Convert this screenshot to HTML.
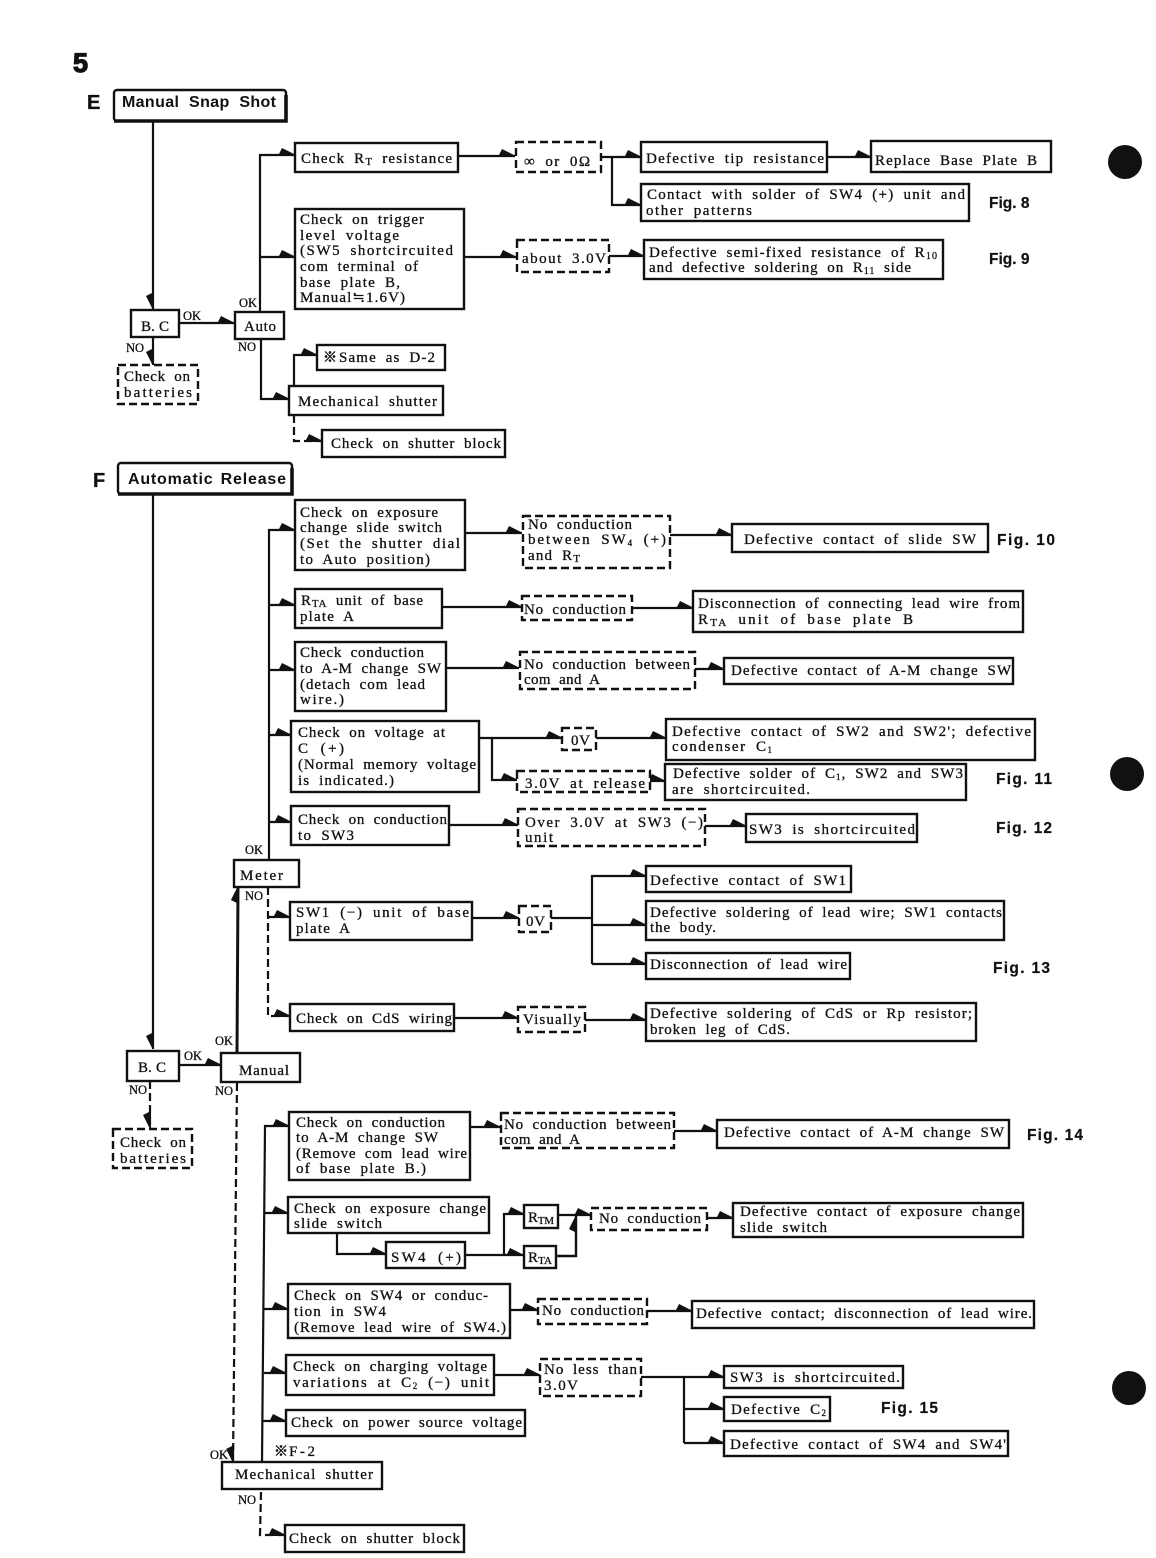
<!DOCTYPE html>
<html><head><meta charset="utf-8"><title>Troubleshooting flowchart</title>
<style>
html,body{margin:0;padding:0;background:#fff}
svg{display:block}
text{font-family:"Liberation Serif","Noto Sans CJK JP",serif;font-size:15px;fill:#111;stroke:#111;stroke-width:.3;word-spacing:4px}
.b{fill:#fff;stroke:#111;stroke-width:2.4}
.d{fill:#fff;stroke:#111;stroke-width:2.4;stroke-dasharray:8 4}
.l{fill:none;stroke:#111;stroke-width:2.2}
.a{fill:none;stroke:#111;stroke-width:2.2;marker-end:url(#ar)}
.am{fill:none;stroke:#111;stroke-width:2.2;marker-end:url(#arm)}
.ad{fill:none;stroke:#111;stroke-width:2.2;stroke-dasharray:8 4;marker-end:url(#ar)}
.adm{fill:none;stroke:#111;stroke-width:2.2;stroke-dasharray:8 4;marker-end:url(#arm)}
.h{font-family:"Liberation Sans",sans-serif;font-weight:bold;font-size:16px;stroke-width:0;word-spacing:5px}
.f{font-family:"Liberation Sans",sans-serif;font-weight:bold;font-size:15.5px;stroke-width:.2;word-spacing:0}
.s{font-family:"Liberation Serif",serif;font-size:12.5px;word-spacing:0}
.m{font-family:"Noto Sans CJK JP",sans-serif;font-weight:bold;font-size:14px;stroke-width:.6}
</style></head><body>
<svg xmlns="http://www.w3.org/2000/svg" width="1156" height="1558" viewBox="0 0 1156 1558">
<defs>
<marker id="ar" markerUnits="userSpaceOnUse" markerWidth="18" markerHeight="12" refX="17" refY="8" orient="auto"><path d="M0,9 L4,1 L17,7.5 L17,9 Z" fill="#111"/></marker>
<marker id="arm" markerUnits="userSpaceOnUse" markerWidth="18" markerHeight="12" refX="17" refY="4" orient="auto"><path d="M0,3 L4,11 L17,4.5 L17,3 Z" fill="#111"/></marker>
</defs>
<rect width="1156" height="1558" fill="#fff"/>
<circle cx="1125" cy="162" r="17" fill="#111"/><circle cx="1127" cy="774" r="17" fill="#111"/><circle cx="1129" cy="1388" r="17" fill="#111"/>

<!-- connectors E -->
<path class="am" d="M153,121V309"/><path class="a" d="M179,323H234"/>
<path class="a" d="M260,312V155H295"/><path class="a" d="M260,257H295"/>
<path class="a" d="M458,156H515"/><path class="a" d="M601,157H641"/><path class="a" d="M612,157V205H641"/>
<path class="a" d="M827,157H871"/>
<path class="a" d="M464,257H516"/><path class="a" d="M609,256H644"/>
<path class="a" d="M261,339V399H289"/><path class="a" d="M294,386V355H317"/>
<path class="ad" d="M294,415V441H322"/><path class="am" d="M153,337V365"/>

<!-- connectors F -->
<path class="am" d="M153,494V1049"/><path class="a" d="M179,1065H221"/>
<path class="adm" d="M150,1081V1128"/>
<path class="a" style="stroke-width:3" d="M237,1053L238,887"/>
<path class="a" d="M269,859V530H295"/><path class="a" d="M269,605H295"/><path class="a" d="M269,670H295"/><path class="a" d="M269,735H291"/><path class="a" d="M269,822H291"/>
<path class="a" d="M465,533H522"/><path class="a" d="M670,535H732"/>
<path class="a" d="M442,607H522"/><path class="a" d="M632,608H693"/>
<path class="a" d="M446,668H519"/><path class="a" d="M695,669H724"/>
<path class="a" d="M479,738H562"/><path class="a" d="M596,738H666"/>
<path class="a" d="M492,738V780H517"/><path class="a" d="M650,781H665"/>
<path class="a" d="M449,825H518"/><path class="a" d="M705,826H746"/>
<path class="ad" d="M268,887V1016H290"/><path class="ad" d="M268,917H290"/>
<path class="a" d="M472,918H519"/><path class="l" d="M551,918H592"/>
<path class="a" d="M592,964V876H646"/><path class="a" d="M592,925H646"/><path class="a" d="M592,964H646"/>
<path class="a" d="M454,1018H518"/><path class="a" d="M585,1020H646"/>
<path class="adm" d="M237,1083L233,1462"/>
<path class="a" d="M262,1462L265,1126H289"/><path class="a" d="M265,1213H288"/><path class="a" d="M264,1309H288"/><path class="a" d="M264,1373H286"/><path class="a" d="M263,1421H286"/>
<path class="a" d="M470,1127H500"/><path class="a" d="M674,1131H717"/>
<path class="a" d="M337,1233V1254H386"/><path class="a" d="M465,1255H523"/><path class="a" d="M504,1255V1214H524"/>
<path class="a" d="M558,1215H591"/><path class="a" style="stroke-width:2.4" d="M557,1256H576V1216"/>
<path class="a" d="M707,1218H733"/>
<path class="a" d="M510,1310H538"/><path class="a" d="M647,1311H692"/>
<path class="a" d="M494,1375H540"/><path class="l" d="M641,1377H684"/>
<path class="a" d="M684,1377H724"/><path class="l" d="M684,1377V1443"/><path class="a" d="M684,1409H724"/><path class="a" d="M684,1443H724"/>
<path class="ad" d="M261,1492L260,1535H285"/>

<!-- E -->
<text x="73" y="72" style="font:900 27px 'Liberation Sans',sans-serif;stroke-width:1.2">5</text>
<text x="87" y="109" style="font:bold 20px 'Liberation Sans',sans-serif;stroke-width:.3">E</text>
<rect x="114" y="90" width="172" height="31" rx="3" fill="#fff" stroke="#111" stroke-width="2.4"/><path class="l" style="stroke-width:3.6" d="M114,121H286V95"/>
<text class="h" x="122" y="107" textLength="154">Manual Snap Shot</text>
<rect class="b" x="131" y="310" width="48" height="27"/><text x="141" y="331" textLength="28" style="word-spacing:0">B. C</text>
<text class="s" x="183" y="320">OK</text><text class="s" x="126" y="352">NO</text>
<rect class="b" x="235" y="312" width="49" height="27"/><text x="244" y="331" textLength="32">Auto</text>
<text class="s" x="239" y="307">OK</text><text class="s" x="238" y="351">NO</text>
<rect class="d" x="118" y="365" width="80" height="39"/><text x="124" y="381" textLength="66">Check on</text><text x="124" y="397" textLength="68">batteries</text>
<rect class="b" x="295" y="143" width="163" height="29"/><text x="301" y="163" textLength="151">Check R<tspan font-size="11" dy="2">T</tspan><tspan dy="-2"> resistance</tspan></text>
<rect class="d" x="516" y="142" width="85" height="30"/><text x="524" y="166" textLength="66">∞ or 0Ω</text>
<rect class="b" x="641" y="142" width="186" height="30"/><text x="646" y="163" textLength="178">Defective tip resistance</text>
<rect class="b" x="871" y="141" width="180" height="31"/><text x="875" y="165" textLength="162">Replace Base Plate B</text>
<rect class="b" x="641" y="184" width="328" height="37"/><text x="647" y="199" textLength="318">Contact with solder of SW4 (+) unit and</text><text x="646" y="215" textLength="106">other patterns</text>
<text class="f" x="989" y="208">Fig. 8</text>
<rect class="b" x="295" y="209" width="169" height="100"/>
<text x="300" y="224" textLength="124">Check on trigger</text><text x="300" y="240" textLength="99">level voltage</text><text x="300" y="255" textLength="153">(SW5 shortcircuited</text><text x="300" y="271" textLength="118">com terminal of</text><text x="300" y="287" textLength="100">base plate B,</text><text x="300" y="302" textLength="105">Manual≒1.6V)</text>
<rect class="d" x="517" y="240" width="92" height="32"/><text x="522" y="263" textLength="84">about 3.0V</text>
<rect class="b" x="644" y="240" width="299" height="39"/><text x="649" y="257" textLength="288">Defective semi-fixed resistance of R<tspan font-size="10" dy="2">10</tspan></text><text x="649" y="272" textLength="262">and defective soldering on R<tspan font-size="10" dy="2">11</tspan><tspan dy="-2"> side</tspan></text>
<text class="f" x="989" y="264">Fig. 9</text>
<rect class="b" x="317" y="345" width="128" height="25"/><text class="m" x="323" y="362">※</text><text x="339" y="362" textLength="96">Same as D-2</text>
<rect class="b" x="289" y="386" width="154" height="29"/><text x="298" y="406" textLength="139">Mechanical shutter</text>
<rect class="b" x="322" y="430" width="183" height="27"/><text x="331" y="448" textLength="170">Check on shutter block</text>

<!-- F -->
<text x="93" y="487" style="font:bold 20px 'Liberation Sans',sans-serif;stroke-width:.3">F</text>
<rect x="118" y="463" width="174" height="31" rx="3" fill="#fff" stroke="#111" stroke-width="2.4"/><path class="l" style="stroke-width:3.6" d="M118,494H292V468"/>
<text class="h" x="128" y="484" textLength="158" style="word-spacing:2px">Automatic Release</text>
<rect class="b" x="295" y="500" width="170" height="70"/>
<text x="300" y="517" textLength="138">Check on exposure</text><text x="300" y="532" textLength="142">change slide switch</text><text x="300" y="548" textLength="160">(Set the shutter dial</text><text x="300" y="564" textLength="130">to Auto position)</text>
<rect class="d" x="523" y="516" width="147" height="52"/><text x="528" y="529" textLength="104">No conduction</text><text x="528" y="544" textLength="138">between SW<tspan font-size="9" dy="2">4</tspan><tspan dy="-2"> (+)</tspan></text><text x="528" y="560" textLength="52">and R<tspan font-size="11" dy="2">T</tspan></text>
<rect class="b" x="732" y="524" width="256" height="28"/><text x="744" y="544" textLength="232">Defective contact of slide SW</text>
<text class="f" x="997" y="545" textLength="58">Fig. 10</text>
<rect class="b" x="295" y="589" width="147" height="39"/><text x="301" y="605" textLength="122">R<tspan font-size="11" dy="2">TA</tspan><tspan dy="-2"> unit of base</tspan></text><text x="300" y="621" textLength="54">plate A</text>
<rect class="d" x="522" y="596" width="110" height="24"/><text x="524" y="614" textLength="102">No conduction</text>
<rect class="b" x="693" y="591" width="330" height="41"/><text x="698" y="608" textLength="322">Disconnection of connecting lead wire from</text><text x="698" y="624" textLength="215">R<tspan font-size="11" dy="2">TA</tspan><tspan dy="-2"> unit of base plate B</tspan></text>
<rect class="b" x="295" y="642" width="151" height="69"/><text x="300" y="657" textLength="124">Check conduction</text><text x="300" y="673" textLength="141">to A-M change SW</text><text x="300" y="689" textLength="125">(detach com lead</text><text x="300" y="704" textLength="44">wire.)</text>
<rect class="d" x="520" y="652" width="175" height="37"/><text x="524" y="669" textLength="166">No conduction between</text><text x="524" y="684" textLength="76">com and A</text>
<rect class="b" x="724" y="658" width="289" height="26"/><text x="731" y="675" textLength="280">Defective contact of A-M change SW</text>
<rect class="b" x="291" y="721" width="188" height="71"/><text x="298" y="737" textLength="147">Check on voltage at</text><text x="298" y="753" textLength="46">C (+)</text><text x="298" y="769" textLength="178">(Normal memory voltage</text><text x="298" y="785" textLength="96">is indicated.)</text>
<rect class="d" x="562" y="728" width="34" height="22"/><text x="571" y="745" textLength="19">0V</text>
<rect class="b" x="666" y="719" width="369" height="41"/><text x="672" y="736" textLength="359">Defective contact of SW2 and SW2'; defective</text><text x="672" y="751" textLength="100">condenser C<tspan font-size="9" dy="2">1</tspan></text>
<rect class="d" x="517" y="771" width="133" height="21"/><text x="525" y="788" textLength="120">3.0V at release</text>
<rect class="b" x="665" y="764" width="301" height="36"/><text x="673" y="778" textLength="290">Defective solder of C<tspan font-size="9" dy="2">1</tspan><tspan dy="-2">, SW2 and SW3</tspan></text><text x="672" y="794" textLength="138">are shortcircuited.</text>
<text class="f" x="996" y="784" textLength="56">Fig. 11</text>
<rect class="b" x="291" y="806" width="158" height="39"/><text x="298" y="824" textLength="149">Check on conduction</text><text x="298" y="840" textLength="56">to SW3</text>
<rect class="d" x="518" y="809" width="187" height="37"/><text x="525" y="827" textLength="178">Over 3.0V at SW3 (−)</text><text x="525" y="842" textLength="28">unit</text>
<rect class="b" x="746" y="814" width="171" height="28"/><text x="749" y="834" textLength="166">SW3 is shortcircuited</text>
<text class="f" x="996" y="833" textLength="56">Fig. 12</text>
<rect class="b" x="234" y="860" width="65" height="27"/><text x="240" y="880" textLength="43">Meter</text>
<text class="s" x="245" y="854">OK</text><text class="s" x="245" y="900">NO</text>
<rect class="b" x="290" y="902" width="182" height="38"/><text x="296" y="917" textLength="173">SW1 (−) unit of base</text><text x="296" y="933" textLength="54">plate A</text>
<rect class="d" x="519" y="906" width="32" height="26"/><text x="526" y="926" textLength="19">0V</text>
<rect class="b" x="646" y="866" width="205" height="26"/><text x="650" y="885" textLength="196">Defective contact of SW1</text>
<rect class="b" x="646" y="901" width="358" height="39"/><text x="650" y="917" textLength="352">Defective soldering of lead wire; SW1 contacts</text><text x="650" y="932" textLength="66">the body.</text>
<rect class="b" x="646" y="953" width="204" height="26"/><text x="650" y="969" textLength="197">Disconnection of lead wire</text>
<text class="f" x="993" y="973" textLength="57">Fig. 13</text>
<rect class="b" x="290" y="1004" width="164" height="27"/><text x="296" y="1023" textLength="156">Check on CdS wiring</text>
<rect class="d" x="518" y="1007" width="67" height="25"/><text x="523" y="1024" textLength="58">Visually</text>
<rect class="b" x="646" y="1003" width="330" height="38"/><text x="650" y="1018" textLength="322">Defective soldering of CdS or Rp resistor;</text><text x="650" y="1034" textLength="140">broken leg of CdS.</text>
<rect class="b" x="127" y="1051" width="52" height="30"/><text x="138" y="1072" textLength="28" style="word-spacing:0">B. C</text>
<text class="s" x="184" y="1060">OK</text><text class="s" x="129" y="1094">NO</text>
<rect class="b" x="221" y="1053" width="79" height="29"/><text x="239" y="1075" textLength="50">Manual</text>
<text class="s" x="215" y="1045">OK</text><text class="s" x="215" y="1095">NO</text>
<rect class="d" x="113" y="1129" width="79" height="39"/><text x="120" y="1147" textLength="66">Check on</text><text x="120" y="1163" textLength="66">batteries</text>
<rect class="b" x="289" y="1112" width="181" height="68"/><text x="296" y="1127" textLength="149">Check on conduction</text><text x="296" y="1142" textLength="142">to A-M change SW</text><text x="296" y="1158" textLength="171">(Remove com lead wire</text><text x="296" y="1173" textLength="130">of base plate B.)</text>
<rect class="d" x="501" y="1113" width="173" height="35"/><text x="504" y="1129" textLength="167">No conduction between</text><text x="504" y="1144" textLength="76">com and A</text>
<rect class="b" x="717" y="1120" width="292" height="28"/><text x="724" y="1137" textLength="280">Defective contact of A-M change SW</text>
<text class="f" x="1027" y="1140" textLength="56">Fig. 14</text>
<rect class="b" x="288" y="1197" width="201" height="36"/><text x="294" y="1213" textLength="192">Check on exposure change</text><text x="294" y="1228" textLength="88">slide switch</text>
<rect class="b" x="386" y="1242" width="79" height="26"/><text x="391" y="1262" textLength="70">SW4 (+)</text>
<rect class="b" x="524" y="1205" width="34" height="23"/><text x="528" y="1222" textLength="26">R<tspan font-size="11" dy="2">TM</tspan></text>
<rect class="b" x="524" y="1246" width="32" height="22"/><text x="528" y="1262" textLength="24">R<tspan font-size="11" dy="2">TA</tspan></text>
<rect class="d" x="591" y="1208" width="116" height="22"/><text x="599" y="1223" textLength="102">No conduction</text>
<rect class="b" x="733" y="1203" width="290" height="34"/><text x="740" y="1216" textLength="280">Defective contact of exposure change</text><text x="740" y="1232" textLength="87">slide switch</text>
<rect class="b" x="288" y="1284" width="222" height="54"/><text x="294" y="1300" textLength="194">Check on SW4 or conduc-</text><text x="294" y="1316" textLength="92">tion in SW4</text><text x="294" y="1332" textLength="212">(Remove lead wire of SW4.)</text>
<rect class="d" x="538" y="1299" width="109" height="25"/><text x="542" y="1315" textLength="102">No conduction</text>
<rect class="b" x="692" y="1301" width="342" height="27"/><text x="696" y="1318" textLength="336">Defective contact; disconnection of lead wire.</text>
<rect class="b" x="286" y="1355" width="208" height="40"/><text x="293" y="1371" textLength="194">Check on charging voltage</text><text x="293" y="1387" textLength="196">variations at C<tspan font-size="9" dy="2">2</tspan><tspan dy="-2"> (−) unit</tspan></text>
<rect class="d" x="540" y="1359" width="101" height="37"/><text x="544" y="1374" textLength="93">No less than</text><text x="544" y="1390" textLength="34">3.0V</text>
<rect class="b" x="724" y="1366" width="179" height="22"/><text x="730" y="1382" textLength="170">SW3 is shortcircuited.</text>
<rect class="b" x="724" y="1397" width="106" height="24"/><text x="731" y="1414" textLength="95">Defective C<tspan font-size="9" dy="2">2</tspan></text>
<text class="f" x="881" y="1413" textLength="57">Fig. 15</text>
<rect class="b" x="724" y="1431" width="284" height="25"/><text x="730" y="1449" textLength="276">Defective contact of SW4 and SW4'</text>
<rect class="b" x="286" y="1410" width="239" height="26"/><text x="291" y="1427" textLength="231">Check on power source voltage</text>
<text class="m" x="274" y="1456">※</text><text x="289" y="1456" textLength="26">F-2</text><text class="s" x="210" y="1459">OK</text>
<rect class="b" x="222" y="1462" width="160" height="27"/><text x="235" y="1479" textLength="138">Mechanical shutter</text>
<text class="s" x="238" y="1504">NO</text>
<rect class="b" x="285" y="1525" width="179" height="27"/><text x="289" y="1543" textLength="171">Check on shutter block</text>
</svg>
</body></html>
